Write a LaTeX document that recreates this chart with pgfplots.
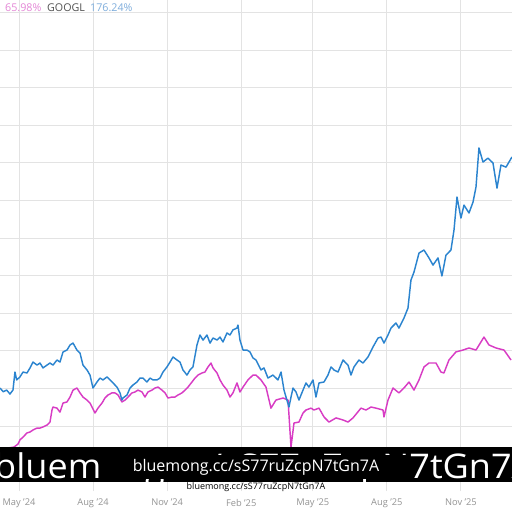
\documentclass[border=0pt]{standalone}
\usepackage{pgfplots}
\usepackage{pgfplotstable}
\pgfplotsset{compat=1.18}
\usepackage{fontspec}
\setmainfont{Open Sans}
\definecolor{gblue}{HTML}{2B84CF}
\definecolor{mag}{HTML}{D83CC4}
\definecolor{legmag}{HTML}{E486D6}
\definecolor{legblue}{HTML}{7EADDC}
\pgfplotstableread{
d v
-23.6 40.2
-19.5 38.2
-15.3 39.1
-11.2 37.0
-7.5 39.1
-5.0 48.7
-2.9 44.5
1.2 46.1
5.0 48.7
9.9 48.2
13.7 50.9
17.4 54.0
22.4 52.4
26.1 53.5
29.8 50.9
34.8 52.4
38.5 53.5
42.2 52.4
47.2 55.1
50.9 54.0
54.7 59.4
59.6 60.4
63.4 63.1
67.1 64.1
72.0 60.4
75.8 58.8
79.5 52.4
84.5 49.8
88.2 47.1
91.9 40.2
96.9 43.4
100.6 45.5
104.3 44.5
109.3 46.1
113.0 44.5
116.8 42.9
121.7 40.7
125.5 37.6
127.9 33.8
129.2 34.9
134.2 36.5
137.9 40.2
141.6 41.8
146.6 43.4
150.3 45.5
154.0 45.5
159.0 43.4
162.7 45.5
166.5 44.5
171.4 44.5
175.1 45.5
178.9 48.7
183.8 51.4
187.6 54.0
191.3 56.7
196.3 55.1
200.0 54.0
203.7 49.8
208.7 47.1
212.4 49.8
216.1 51.4
221.1 63.1
224.8 68.4
228.6 65.7
233.5 68.4
237.3 64.1
241.0 66.8
246.0 65.7
249.7 67.3
253.4 64.7
258.4 69.5
262.1 68.4
265.8 71.1
270.8 72.1
272.0 73.7
274.5 65.7
278.3 60.4
283.2 60.4
286.9 59.4
290.7 56.2
294.4 55.1
300.6 49.8
304.3 50.9
309.3 45.5
315.5 47.1
321.7 44.5
325.5 48.7
329.2 39.1
331.7 35.4
335.4 30.1
337.9 35.4
340.4 40.2
344.1 38.1
347.8 33.8
352.8 39.1
356.5 42.9
360.2 40.7
365.2 44.5
368.9 35.4
372.7 42.9
378.9 43.4
383.8 47.1
387.6 51.4
391.3 49.8
396.3 48.7
402.5 55.1
408.7 52.4
412.4 47.1
416.1 51.4
422.3 55.1
427.3 53.5
433.5 56.7
439.7 62.0
446.0 66.8
449.7 67.3
453.4 64.1
458.4 68.4
462.1 72.1
468.3 74.8
472.0 72.1
478.2 77.4
483.2 82.7
486.9 97.6
490.7 101.9
496.9 112.0
503.1 113.6
509.3 109.4
514.3 105.6
520.5 109.4
525.4 99.8
530.4 110.9
536.6 113.6
540.4 124.3
544.1 141.8
549.0 130.6
552.8 137.5
559.0 133.3
564.0 139.1
567.7 147.1
571.4 167.9
576.4 160.4
582.6 162.5
588.8 159.9
593.8 146.5
598.7 158.8
605.0 157.7
612.4 163.1
}\googl
\pgfplotstableread{
d v
-23.6 6.2
-13.7 8.3
-6.2 8.8
-1.2 10.4
1.2 12.6
5.0 14.1
9.9 16.3
13.7 16.8
17.4 17.9
22.4 18.9
26.1 18.9
29.8 19.5
34.8 20.5
38.5 22.1
41.0 28.5
42.2 30.1
47.2 29.5
50.9 27.4
54.7 32.2
59.6 32.8
63.4 35.4
67.1 39.1
72.0 40.2
75.8 37.6
79.5 35.4
84.5 33.8
88.2 32.2
94.4 26.9
98.1 29.5
103.1 32.2
106.8 34.9
110.6 36.5
115.5 37.6
119.3 37.6
123.0 36.5
127.9 32.8
131.7 33.8
135.4 35.4
140.4 37.6
144.1 38.1
147.8 39.1
152.8 38.1
156.5 35.4
160.2 38.1
165.2 39.1
168.9 40.2
172.7 40.7
177.6 39.1
181.4 37.6
185.1 34.9
190.1 35.4
193.8 35.4
197.5 36.5
202.5 37.6
206.2 39.1
209.9 40.7
214.9 43.4
218.6 45.5
222.4 47.1
227.3 48.2
231.0 48.7
234.8 51.4
238.5 53.5
241.0 50.9
246.0 48.2
249.7 44.5
253.4 41.8
258.4 39.1
262.1 35.4
265.8 37.6
270.8 42.9
274.5 38.1
278.3 40.7
284.4 44.5
290.7 47.1
294.4 47.1
300.6 44.5
306.8 40.7
313.0 29.5
319.2 33.8
328.0 34.9
334.2 33.8
337.9 8.8
341.6 21.6
347.8 22.1
352.8 26.9
356.5 28.5
362.7 29.5
366.4 28.5
372.7 29.5
378.9 24.8
385.1 22.1
393.8 24.3
402.5 23.2
408.7 22.1
414.9 24.3
424.8 29.5
431.0 28.5
437.3 30.1
443.5 29.5
452.2 28.5
453.4 24.8
458.4 33.8
464.6 40.2
472.0 37.6
478.2 40.2
484.5 43.4
490.7 39.1
496.9 44.5
503.1 51.4
509.3 53.5
518.0 53.5
524.2 48.7
527.9 48.2
534.1 55.1
542.8 59.4
551.5 60.4
559.0 61.5
567.7 60.4
577.6 67.3
583.8 63.1
592.5 61.5
602.5 60.4
611.2 55.1
}\other
\begin{document}
\begin{tikzpicture}[x=1pt,y=1pt]
\useasboundingbox (0,0) rectangle (512,512);
\clip (0,0) rectangle (512,512);
\fill[white] (0,0) rectangle (512,512);
\begin{axis}[
  anchor=origin, at={(19pt,48.4pt)},
  x=0.805pt, y=1.88pt,
  xmin=-24, xmax=614, ymin=-14.6, ymax=262,
  axis line style={draw=none},
  major tick length=0pt,
  xtick={0,92,184,276,365,457,549},
  xticklabels={May '24,Aug '24,Nov '24,Feb '25,May '25,Aug '25,Nov '25},
  ytick={0,20,...,240},
  yticklabels={},
  grid=major,
  major grid style={draw=black!11, line width=0.9pt},
  xticklabel style={font=\fontsize{9.3}{10}\selectfont, text=black!42, anchor=north, inner sep=0pt, yshift=-8pt},
  clip=false,
]
\addplot[mag, line width=1.45pt, line join=round] table[x=d,y=v] {\other};
\addplot[gblue, line width=1.45pt, line join=round] table[x=d,y=v] {\googl};
\end{axis}
% legend
\node[anchor=base west, inner sep=0pt, text=legmag, font=\fontsize{10.7}{12}\selectfont] at (5,500) {65.98\%};
\node[anchor=base west, inner sep=0pt, text=black!68, font=\fontsize{10.7}{12}\selectfont] at (47,500) {GOOGL};
\node[anchor=base west, inner sep=0pt, text=legblue, font=\fontsize{10.7}{12}\selectfont] at (90,500) {176.24\%};
% watermark
\fill[black] (0,30) rectangle (512,65);
\node[anchor=base west, inner sep=0pt, text=white, font=\fontsize{34}{36}\selectfont, xscale=1.06] at (-6,33) {bluemong.cc/sS77uZcpN7tGn7A};
\fill[black] (102,33) rectangle (410,57);
\node[anchor=base, inner sep=0pt, text=white, font=\fontsize{16}{18}\selectfont] at (256,40) {bluemong.cc/sS77ruZcpN7tGn7A};
\node[anchor=base, inner sep=0pt, text=black, font=\fontsize{9}{10}\selectfont] at (256,22) {bluemong.cc/sS77ruZcpN7tGn7A};
\end{tikzpicture}
\end{document}
